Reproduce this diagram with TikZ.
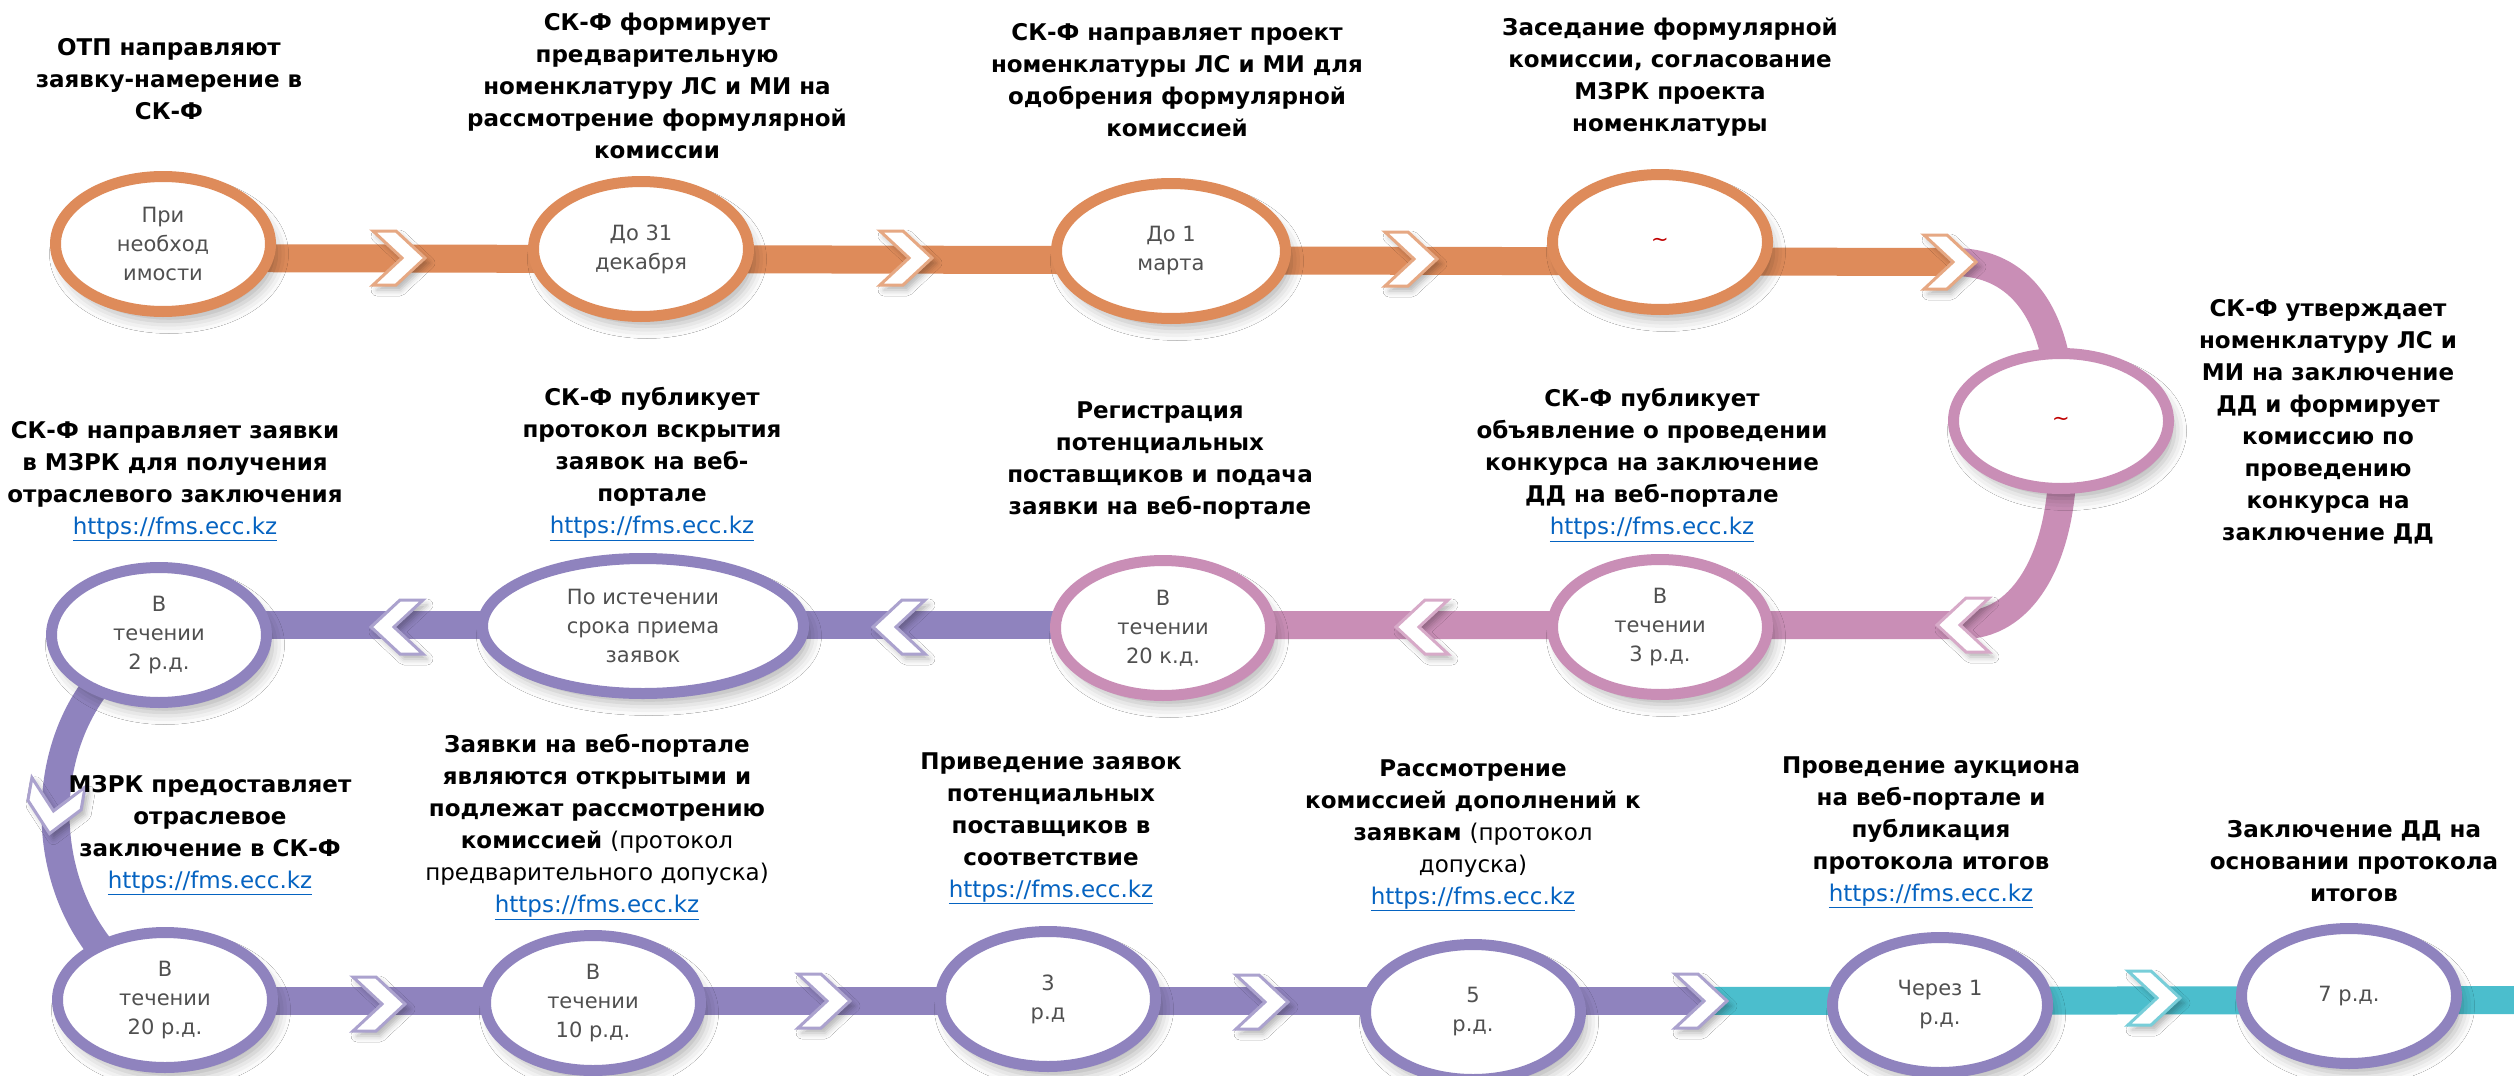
\documentclass[tikz,border=0pt]{standalone}
\usepackage{fontspec}
\setmainfont{DejaVu Sans}
\usetikzlibrary{shapes.geometric,backgrounds,shadows.blur}

\definecolor{orangeC}{RGB}{222,139,90}
\definecolor{pinkC}{RGB}{201,142,182}
\definecolor{purpleC}{RGB}{143,131,190}
\definecolor{tealC}{RGB}{75,190,205}
\definecolor{textGray}{RGB}{80,80,80}
\definecolor{linkBlue}{RGB}{5,99,193}
\definecolor{tildeRed}{RGB}{192,0,0}

\newcommand{\weblink}{{\mdseries\color{linkBlue}\underline{https://fms.ecc.kz}}}
\newcommand{\redtilde}{{\color{tildeRed}\textasciitilde}}

\begin{document}
\begin{tikzpicture}
[x=1pt,y=-1pt,%
  barLine/.style={line width=28pt,draw=#1},%
  chevronDecorate/.style={draw=#1!75!white,fill=white,line width=3pt,line join=miter,
    blur shadow={shadow xshift=4pt,shadow yshift=-5pt,shadow blur radius=6pt,shadow opacity=30}},%
  ellipseDecorate/.style={shape=ellipse,draw=#1,line width=11pt,fill=white,inner sep=0pt,
    minimum height=135pt,align=center,text=textGray,font=\fontsize{21}{29}\selectfont,
    blur shadow={shadow xshift=6pt,shadow yshift=-10pt,shadow blur radius=12pt,shadow opacity=30}},%
  stepLabel/.style={align=center,font=\fontsize{23}{32}\selectfont\bfseries}]
\useasboundingbox (0,0) rectangle (2514,1076);
%% stages (ellipses)
\foreach \nodename/\x/\y/\col/\ew/\txt in {
  e1/163/244/orangeC/215/{При\\необход\\имости},
  e2/641/249/orangeC/215/{До 31\\декабря},
  e3/1171/251/orangeC/229/{До 1\\марта},
  e4/1660/242/orangeC/215/{\redtilde},
  e5/2061/421/pinkC/215/{\redtilde},
  e6/1660/627/pinkC/215/{В\\течении\\3 р.д.},
  e7/1163/628/pinkC/215/{В\\течении\\20 к.д.},
  e8/643/626/purpleC/321/{По истечении\\срока приема\\заявок},
  e9/159/635/purpleC/215/{В\\течении\\2 р.д.},
  e10/165/1000/purpleC/215/{В\\течении\\20 р.д.},
  e11/593/1003/purpleC/215/{В\\течении\\10 р.д.},
  e12/1048/999/purpleC/215/{3\\р.д},
  e13/1473/1012/purpleC/215/{5\\р.д.},
  e14/1940/1005/purpleC/215/{Через 1\\р.д.},
  e15/2349/996/purpleC/215/{7 р.д.}}
{
  \node (\nodename) at (\x,\y) [ellipseDecorate=\col,minimum width=\ew pt] {\txt};
}
%% chevrons on the band
\foreach \cname/\x/\y/\rot/\col in {
  ch1/399/258/0/orangeC, ch2/906/258/0/orangeC, ch3/1411/259/0/orangeC, ch4/1950/262/0/orangeC,
  ch5/1963/625/180/pinkC, ch6/1422/627/180/pinkC, ch7/899/627/180/purpleC, ch8/397/627/180/purpleC,
  ch9/54/808/-100/purpleC,
  ch10/379/1004/0/purpleC, ch11/824/1001/0/purpleC, ch12/1262/1002/0/purpleC,
  ch13/1701/1001/0/purpleC, ch14/2154/998/0/tealC}
{
  \coordinate (\cname) at (\x,\y);
  \draw[chevronDecorate=\col,shift={(\cname)},rotate=\rot]
    (-26,-27) -- (-3,-27) -- (26,0) -- (-3,27) -- (-26,27) -- (3,0) -- cycle;
}
\coordinate (barEnd) at (2514,1000);
%% band
\begin{pgfonlayer}{background}
\fill[white] (0,0) rectangle (2514,1076);
\draw[barLine=orangeC] (e1 |- ch1) -- (ch4);
\draw[barLine=pinkC] (ch4) .. controls (2030,260) and (2062,330) .. (e5.center);
\draw[barLine=pinkC] (e5.center) .. controls (2072,540) and (2030,625) .. (ch5) -- (e7 |- ch5);
\draw[barLine=purpleC] (e7 |- ch5) -- (e9 |- ch5);
\draw[barLine=purpleC] (e9.center) .. controls (20,700) and (20,930) .. (e10.center);
\draw[barLine=purpleC] (e10 |- ch13) -- (ch13);
\draw[barLine=tealC] (ch13) -- (barEnd);
\end{pgfonlayer}
%% step labels
\foreach \nodename/\x/\y/\txt in {
  l1/169/79/{ОТП направляют\\заявку-намерение в\\СК-Ф},
  l2/657/86/{СК-Ф формирует\\предварительную\\номенклатуру ЛС и МИ на\\рассмотрение формулярной\\комиссии},
  l3/1177/80/{СК-Ф направляет проект\\номенклатуры ЛС и МИ для\\одобрения формулярной\\комиссией},
  l4/1670/77/{Заседание формулярной\\комиссии, согласование\\МЗРК проекта\\номенклатуры},
  l5/2328/422/{СК-Ф утверждает\\номенклатуру ЛС и\\МИ на заключение\\ДД и формирует\\комиссию по\\проведению\\конкурса на\\заключение ДД},
  l6/1652/465/{СК-Ф публикует\\объявление о проведении\\конкурса на заключение\\ДД на веб-портале\\\weblink},
  l7/1160/461/{Регистрация\\потенциальных\\поставщиков и подача\\заявки на веб-портале},
  l8/652/464/{СК-Ф публикует\\протокол вскрытия\\заявок на веб-\\портале\\\weblink},
  l9/175/481/{СК-Ф направляет заявки\\в МЗРК для получения\\отраслевого заключения\\\weblink},
  l10/210/835/{МЗРК предоставляет\\отраслевое\\заключение в СК-Ф\\\weblink},
  l11/597/827/{Заявки на веб-портале\\являются открытыми и\\подлежат рассмотрению\\комиссией {\mdseries (протокол}\\{\mdseries предварительного допуска)}\\\weblink},
  l12/1051/828/{Приведение заявок\\потенциальных\\поставщиков в\\соответствие\\\weblink},
  l13/1473/835/{Рассмотрение\\комиссией дополнений к\\заявкам {\mdseries (протокол}\\{\mdseries допуска)}\\\weblink},
  l14/1931/832/{Проведение аукциона\\на веб-портале и\\публикация\\протокола итогов\\\weblink},
  l15/2354/861/{Заключение ДД на\\основании протокола\\итогов}}
{
  \node (\nodename) at (\x,\y) [stepLabel] {\txt};
}
\end{tikzpicture}
\end{document}
